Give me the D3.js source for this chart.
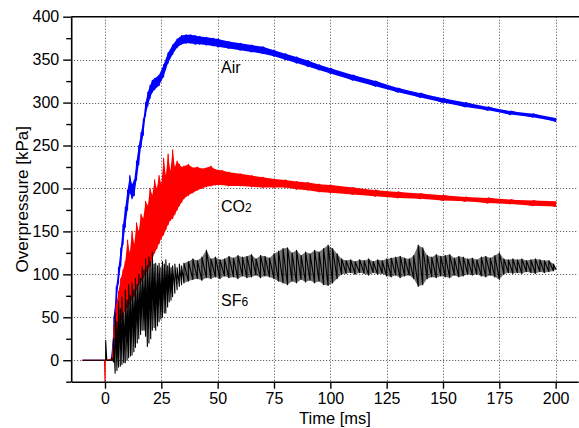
<!DOCTYPE html>
<html>
<head>
<meta charset="utf-8">
<script src="https://cdn.jsdelivr.net/npm/d3@7"></script>
<style>
    body { margin: 0; background: #fff; }
    text { font-family: "Liberation Sans", Arial, sans-serif; fill: #000; }
</style>
</head>
<body>
<svg id="chart" width="579" height="428"></svg>
<script>
// ---- data (time in ms, pressure in kPa) ----
// each trace is noisy, so it is kept as a lower / upper envelope per sample time
const airT  = [-10, 2, 3, 4, 5, 6, 7, 8, 9, 10, 11, 12, 13, 14, 15, 16, 17, 18, 19, 20, 21, 22, 24, 26, 28, 30, 32, 34, 36, 38, 40, 42, 45, 48, 50, 55, 60, 65, 70, 75, 80, 85, 90, 95, 100, 110, 120, 130, 140, 150, 160, 170, 180, 190, 200];
const airLo = [0, 0, 0, 30, 65, 90, 110, 135, 155, 175, 195, 188, 192, 210, 228, 248, 262, 285, 296, 305, 312, 315, 320, 330, 346, 356, 364, 368, 369, 369, 368, 368, 367, 366, 365, 363, 361, 359, 357, 354, 350, 346, 342, 338, 334, 326, 319, 312, 306, 300, 295, 291, 286, 283, 278];
const airHi = [0, 0, 4, 50, 85, 108, 130, 158, 178, 198, 215, 205, 210, 232, 250, 265, 280, 300, 312, 320, 326, 328, 332, 344, 358, 367, 374, 378, 379, 379, 378, 377, 376, 375, 374, 371, 369, 367, 365, 361, 357, 353, 349, 344, 340, 332, 325, 317, 311, 305, 300, 295, 290, 287, 282];

const co2T  = [-10, -0.2, 0, 0.3, 3, 4, 5, 6, 7, 8, 9, 10, 11, 12, 13, 14, 15, 16, 17, 18, 19, 20, 21, 22, 23, 24, 25, 26, 27, 28, 29, 30, 31, 32, 33, 34, 35, 37, 39, 41, 43, 45, 47, 49, 52, 55, 60, 65, 70, 75, 80, 85, 90, 95, 100, 110, 120, 130, 140, 150, 160, 170, 180, 190, 200];
const co2Lo = [0, 0, -25, 0, 0, 5, 20, 35, 45, 50, 58, 62, 66, 70, 75, 82, 88, 92, 96, 100, 105, 110, 118, 125, 130, 136, 142, 146, 152, 158, 163, 165, 170, 175, 180, 184, 188, 192, 195, 198, 200, 202, 203, 204, 204, 203, 203, 202, 201, 201, 201, 199, 198, 196, 195, 193, 191, 189, 188, 186, 185, 183, 182, 180, 179];
const co2Hi = [0, 0, 0, 0, 2, 40, 65, 80, 95, 105, 115, 140, 125, 150, 135, 160, 150, 170, 165, 185, 180, 200, 192, 210, 200, 215, 205, 235, 215, 240, 220, 245, 225, 232, 228, 225, 226, 228, 224, 225, 223, 224, 226, 222, 221, 219, 217, 215, 213, 211, 210, 208, 207, 205, 204, 201, 198, 196, 194, 192, 190, 189, 187, 186, 185];

const sf6T  = [-10, -0.2, 0.3, 0.8, 3, 3.8, 4.5, 5.3, 6, 6.8, 7.5, 8.3, 9, 9.8, 10.5, 11.3, 12, 12.8, 13.5, 14.3, 15, 15.8, 16.5, 17.3, 18, 18.8, 19.5, 20.3, 21, 21.8, 22.5, 23.3, 24, 24.8, 25.5, 26.3, 27, 27.8, 28.5, 29.3, 30, 31, 32, 33, 34, 35,
               37, 39, 41, 43, 45, 47, 49, 51, 53, 55, 57, 59, 61, 63, 65, 67, 69, 71, 73, 75, 77, 79, 81, 83, 85, 87, 89, 91, 93, 95, 97, 99, 101, 103, 105, 107, 109, 111, 113, 115, 117, 119, 121, 123, 125, 127, 129, 131, 133, 135, 137, 139, 141, 143, 145, 147, 149, 151, 153, 155, 157, 159, 161, 163, 165, 167, 169, 171, 173, 175, 177, 179, 181, 183, 185, 187, 189, 191, 193, 195, 197, 199, 200];
const sf6Lo = [0, 0, 0, 0, 0, -2, -15, -12, -8, -7, -5, -3, -3, 0, 3, 5, 6, 10, 15, 20, 25, 30, 35, 35, 28, 16, 20, 25, 35, 38, 35, 40, 45, 48, 50, 55, 55, 62, 68, 70, 74, 78, 82, 86, 88, 90,
               92, 94, 95, 93, 96, 95, 97, 95, 98, 96, 97, 95, 98, 96, 97, 99, 96, 98, 97, 95, 92, 90, 88, 92, 90, 94, 91, 93, 90, 92, 88, 87, 90, 95, 100, 101, 102, 100, 102, 101, 99, 102, 100, 101, 98, 97, 99, 96, 98, 99, 95, 86, 88, 95, 97, 96, 98, 97, 96, 99, 97, 98, 100, 99, 100, 98, 97, 99, 97, 94, 100, 102, 101, 102, 101, 103, 102, 101, 103, 102, 103, 104, 106];
const sf6Hi = [0, 0, 23, 0, 3, 25, 55, 45, 68, 60, 74, 55, 82, 70, 88, 75, 90, 82, 95, 88, 100, 95, 109, 105, 118, 110, 120, 115, 126, 112, 113, 110, 113, 108, 115, 112, 117, 110, 113, 108, 110, 112, 108, 112, 110, 113,
               115, 118, 116, 120, 128, 118, 120, 117, 118, 121, 119, 122, 120, 121, 123, 118, 122, 121, 119, 124, 127, 130, 131, 125, 128, 122, 126, 124, 128, 126, 130, 134, 130, 124, 118, 116, 117, 115, 117, 116, 118, 115, 117, 116, 118, 119, 120, 121, 119, 118, 122, 134, 131, 122, 120, 123, 121, 122, 123, 119, 121, 120, 118, 119, 117, 120, 121, 119, 122, 125, 118, 117, 118, 117, 118, 116, 117, 118, 117, 116, 116, 112, 108];

const xTicks = [0, 25, 50, 75, 100, 125, 150, 175, 200];
const yTicks = [0, 50, 100, 150, 200, 250, 300, 350, 400];
const yMinor = [-25, 25, 75, 125, 175, 225, 275, 325, 375];

const svg = d3.select("#chart");
const pLeft = 71.2, pRight = 578.2, pTop = 16.7, pBottom = 381.7;

let x = d3.scaleLinear().domain([-15, 210]).range([pLeft, pRight]);
let y = d3.scaleLinear().domain([-25, 400]).range([pBottom, pTop]);

// grid
let grid = svg.append("g").attr("stroke", "#444").attr("stroke-width", 1).attr("stroke-dasharray", "1,2");
grid.selectAll(".vgrid").data(xTicks).join("line")
    .attr("x1", d => Math.round(x(d)) + 0.5).attr("x2", d => Math.round(x(d)) + 0.5)
    .attr("y1", pTop).attr("y2", pBottom);
grid.selectAll(".hgrid").data(yTicks.slice(0, -1)).join("line")
    .attr("x1", pLeft).attr("x2", pRight)
    .attr("y1", d => Math.round(y(d)) + 0.5).attr("y2", d => Math.round(y(d)) + 0.5);

svg.append("clipPath").attr("id", "plot-clip")
    .append("rect").attr("x", pLeft).attr("y", pTop).attr("width", pRight - pLeft).attr("height", pBottom - pTop);

let plot = svg.append("g").attr("clip-path", "url(#plot-clip)");

// envelope -> sawtooth (vertical stroke lo..hi at every sample, then on to the next)
function saw(t, lo, hi){
    return d3.line().x(d => x(d[0])).y(d => y(d[1]))(t.flatMap((tt, i) => [[tt, lo[i]], [tt, hi[i]]]));
}
function band(t, lo, hi, from){
    let idx = d3.range(t.length).filter(i => t[i] >= from);
    return d3.area().x(i => x(t[i])).y0(i => y(lo[i])).y1(i => y(hi[i]))(idx);
}

// fillFrom: the envelope gets filled from that time on (dense noise looks solid there)
const traces = [
    {t: airT, lo: airLo, hi: airHi, color: "#0000ff", fillFrom: -100, opacity: 1, width: 1.2},
    {t: co2T, lo: co2Lo, hi: co2Hi, color: "#ff0000", fillFrom: -100, opacity: 1, width: 1.2},
    {t: sf6T, lo: sf6Lo, hi: sf6Hi, color: "#000000", fillFrom: 35, opacity: 0.55, width: 1.1}
];
traces.forEach(s => {
    plot.append("path").attr("d", band(s.t, s.lo, s.hi, s.fillFrom))
        .attr("fill", s.color).attr("fill-opacity", s.opacity).attr("stroke", "none");
    plot.append("path").attr("d", saw(s.t, s.lo, s.hi))
        .attr("fill", "none").attr("stroke", s.color).attr("stroke-width", s.width)
        .attr("stroke-linejoin", "round");
});

// axes
svg.append("g").attr("transform", `translate(${pLeft},0)`)
    .call(d3.axisLeft(y).tickValues(yTicks).tickSize(8).tickPadding(4).tickSizeOuter(0));
svg.append("g").attr("transform", `translate(${pLeft},0)`)
    .call(d3.axisLeft(y).tickValues(yMinor).tickSize(5).tickFormat("").tickSizeOuter(0))
    .select(".domain").remove();
svg.append("g").attr("transform", `translate(0,${pBottom})`)
    .call(d3.axisBottom(x).tickValues(xTicks).tickSize(7).tickPadding(4).tickSizeOuter(0));

svg.selectAll(".tick line").attr("stroke", "#000").attr("stroke-width", 1.4);
svg.selectAll(".domain").attr("stroke", "#000").attr("stroke-width", 1.6);
svg.selectAll(".tick text").style("font-size", "16px").style("font-family", '"Liberation Sans", Arial, sans-serif');

// top frame line
svg.append("line").attr("x1", pLeft).attr("x2", pRight + 1).attr("y1", pTop).attr("y2", pTop)
    .attr("stroke", "#000").attr("stroke-width", 1.6);

// axis titles
svg.append("text").attr("x", 335).attr("y", 424).attr("text-anchor", "middle")
    .style("font-size", "16.5px").text("Time [ms]");
svg.append("text").attr("transform", `translate(28,${(pTop + pBottom) / 2}) rotate(-90)`)
    .attr("text-anchor", "middle").style("font-size", "17px").text("Overpressure [kPa]");

// trace labels
function label(px, py, main, sub){
    let t = svg.append("text").attr("x", px).attr("y", py).style("font-size", "16px");
    t.append("tspan").text(main);
    if (sub) t.append("tspan").style("font-size", "12px").text(sub);
}
label(221, 73, "Air");
label(221, 212, "CO", "2");
label(221, 306, "SF", "6");
</script>
</body>
</html>
